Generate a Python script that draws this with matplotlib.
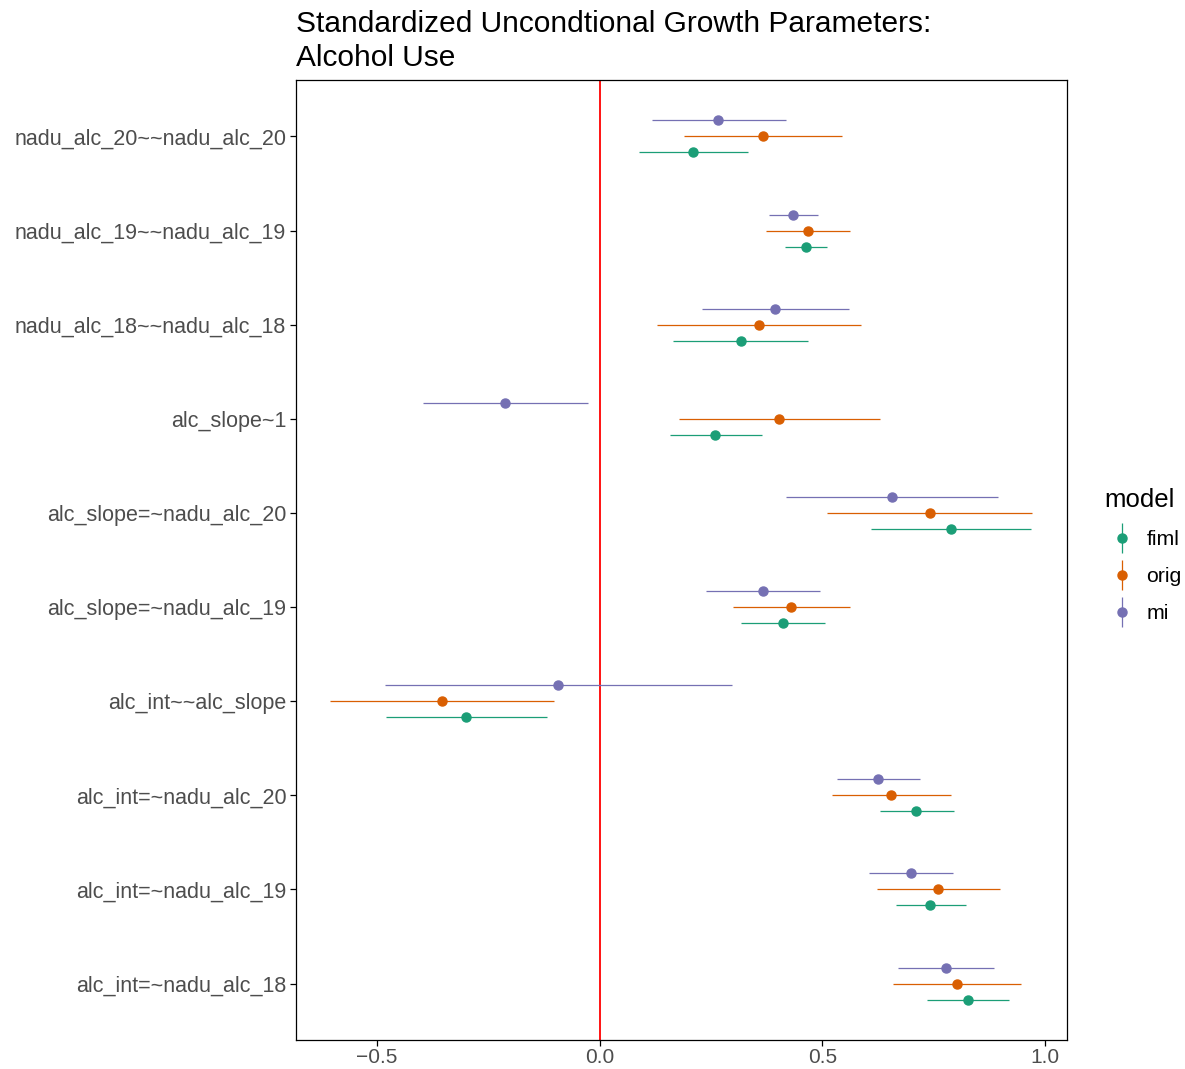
"""
Standardized unconditional growth parameters, alcohol use: fiml / orig / mi.
"""

import matplotlib
matplotlib.use("Agg")
import matplotlib.pyplot as plt
from matplotlib.legend_handler import HandlerTuple
from matplotlib.lines import Line2D
import numpy as np

plt.rcParams["font.family"] = ["Liberation Sans", "DejaVu Sans"]

# parameters, bottom to top
params = [
    "alc_int=~nadu_alc_18",
    "alc_int=~nadu_alc_19",
    "alc_int=~nadu_alc_20",
    "alc_int~~alc_slope",
    "alc_slope=~nadu_alc_19",
    "alc_slope=~nadu_alc_20",
    "alc_slope~1",
    "nadu_alc_18~~nadu_alc_18",
    "nadu_alc_19~~nadu_alc_19",
    "nadu_alc_20~~nadu_alc_20",
]

models = ["fiml", "orig", "mi"]
colors = {"fiml": "#1B9E77", "orig": "#D95F02", "mi": "#7570B3"}

fiml_est = [0.827, 0.742, 0.710, -0.301, 0.411, 0.789, 0.258, 0.317, 0.463, 0.209]
fiml_lo = [0.735, 0.665, 0.629, -0.481, 0.317, 0.609, 0.157, 0.164, 0.416, 0.088]
fiml_hi = [0.919, 0.822, 0.796, -0.119, 0.506, 0.969, 0.364, 0.467, 0.510, 0.333]

orig_est = [0.802, 0.760, 0.654, -0.355, 0.429, 0.741, 0.402, 0.357, 0.467, 0.366]
orig_lo = [0.659, 0.622, 0.521, -0.605, 0.299, 0.510, 0.178, 0.128, 0.373, 0.189]
orig_hi = [0.946, 0.899, 0.789, -0.103, 0.562, 0.971, 0.629, 0.587, 0.562, 0.544]

mi_est = [0.777, 0.699, 0.625, -0.094, 0.366, 0.656, -0.213, 0.393, 0.434, 0.265]
mi_lo = [0.670, 0.604, 0.533, -0.483, 0.238, 0.418, -0.398, 0.229, 0.380, 0.117]
mi_hi = [0.885, 0.793, 0.719, 0.297, 0.494, 0.894, -0.027, 0.560, 0.490, 0.418]

data = {
    "fiml": (fiml_est, fiml_lo, fiml_hi),
    "orig": (orig_est, orig_lo, orig_hi),
    "mi": (mi_est, mi_lo, mi_hi),
}
dodge = {"fiml": -0.17, "orig": 0.0, "mi": 0.17}

fig = plt.figure(figsize=(11.85, 10.69), dpi=100)
ax = fig.add_axes([0.2498, 0.0271, 0.6506, 0.8981])

y = np.arange(1, len(params) + 1)
ax.axvline(0, color="#FF0000", lw=1.3, zorder=1)
for m in models:
    est, lo, hi = (np.array(a) for a in data[m])
    yy = y + dodge[m]
    ax.hlines(yy, lo, hi, color=colors[m], lw=0.9, zorder=2)
    ax.plot(est, yy, "o", color=colors[m], ms=6.5, zorder=3)

ax.set_xlim(-0.682, 1.049)
ax.set_ylim(0.4, 10.6)
ax.set_yticks(y)
ax.set_yticklabels(params)
ax.set_xticks([-0.5, 0.0, 0.5, 1.0])
ax.set_xticklabels(["\u22120.5", "0.0", "0.5", "1.0"])
ax.tick_params(labelsize=15.5, labelcolor="#4D4D4D", color="black", length=4, width=0.9)
ax.tick_params(axis="y", pad=3)
ax.tick_params(axis="x", pad=2, labelsize=15)
for s in ax.spines.values():
    s.set_linewidth(0.9)

ax.set_title("Standardized Uncondtional Growth Parameters:\nAlcohol Use",
             loc="left", fontsize=21.5, pad=10, linespacing=1.28)

handles = []
for m in models:
    dot = Line2D([], [], marker="o", color=colors[m], ls="none", ms=6.5)
    bar = Line2D([], [], marker="|", color=colors[m], ls="none", ms=21, mew=0.9)
    handles.append((bar, dot))
fig.legend(handles, models, title="model", loc="upper left",
           bbox_to_anchor=(0.9156, 0.5615), frameon=False, fontsize=15.3,
           title_fontsize=18.5, handler_map={tuple: HandlerTuple(ndivide=1)},
           handlelength=1.7, labelspacing=0.85, handletextpad=0.3, alignment="left")

fig.savefig("out.png", dpi=100)
